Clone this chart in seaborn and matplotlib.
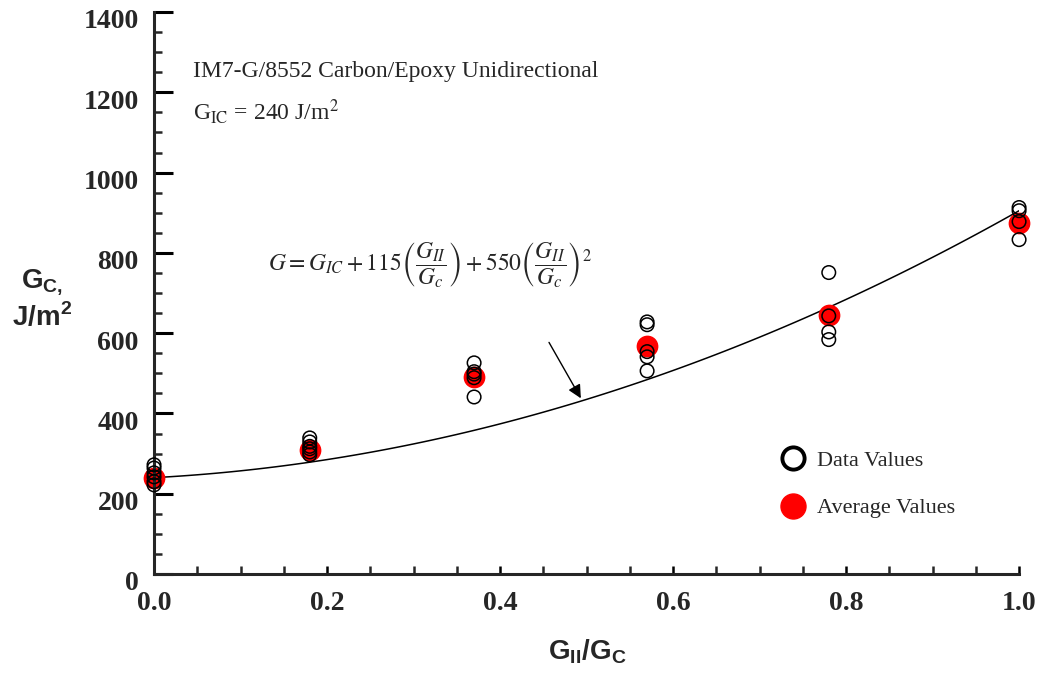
import numpy as np
import pandas as pd
import seaborn as sns
import matplotlib.pyplot as plt
from matplotlib.lines import Line2D
from matplotlib.ticker import MultipleLocator
import matplotlib.transforms as mtransforms

# valori (rapporto GII/Gc e Gc in J/m2)
rapporti = [0.0, 0.18, 0.37, 0.57, 0.78, 1.0]
dati_0 = [222, 230, 242, 252, 264, 272]
dati_018 = [297, 304, 312, 318, 329, 339]
dati_037 = [441, 489, 498, 504, 526]
dati_057 = [506, 541, 554, 621, 628]
dati_078 = [584, 603, 643, 751]
dati_100 = [833, 878, 905, 913]
medie = [240, 310, 492, 568, 645, 875]

tick_x = [0.0, 0.2, 0.4, 0.6, 0.8, 1.0]
tick_y = [0, 200, 400, 600, 800, 1000, 1200, 1400]

# coefficienti della curva riportata nel grafico
g_ic = 240
coeff_1 = 115
coeff_2 = 550

gruppi = [dati_0, dati_018, dati_037, dati_057, dati_078, dati_100]
df = pd.DataFrame({
    "x": [r for r, g in zip(rapporti, gruppi) for _ in g],
    "G": [v for g in gruppi for v in g],
})
df_medie = pd.DataFrame({"x": rapporti, "G": medie})

xs = np.linspace(0, 1, 101)
df_curva = pd.DataFrame({"x": xs, "G": g_ic + coeff_1 * xs + coeff_2 * xs**2})

sns.set_style("ticks")
plt.rcParams["font.family"] = ["Liberation Serif", "DejaVu Serif"]
plt.rcParams["mathtext.fontset"] = "stix"
plt.rcParams["mathtext.rm"] = "Liberation Sans"
plt.rcParams["mathtext.bf"] = "Liberation Sans:bold"
plt.rcParams["axes.linewidth"] = 2.2

fig = plt.figure(figsize=(10.45, 6.76), dpi=100)
ax = fig.add_axes([0.1474, 0.1509, 0.8278, 0.8313])

sns.lineplot(data=df_curva, x="x", y="G", color="black", lw=1.1, ax=ax)
sns.scatterplot(data=df_medie, x="x", y="G", color="red", edgecolor="red",
                s=210, ax=ax, zorder=2, clip_on=False)
sns.scatterplot(data=df, x="x", y="G", marker="o", facecolor="none",
                edgecolor="black", s=95, linewidth=1.1, ax=ax, zorder=3,
                clip_on=False)

ax.set_xlim(0, 1)
ax.set_ylim(0, 1400)
ax.set_xticks(tick_x, [f"{v:.1f}" for v in tick_x], fontweight="bold")
ax.set_yticks(tick_y, [str(v) for v in tick_y], fontweight="bold")
ax.xaxis.set_minor_locator(MultipleLocator(0.05))
ax.yaxis.set_minor_locator(MultipleLocator(50))
ax.tick_params(which="major", direction="in", length=14, width=2.2,
               labelsize=20, color="black")
ax.tick_params(which="minor", direction="in", length=6, width=1.8)
ax.tick_params(axis="x", which="major", length=6, width=1.8, pad=12)
ax.tick_params(axis="y", which="major", pad=11)
spost = mtransforms.ScaledTranslation(0, -5 / 72, fig.dpi_scale_trans)
for lab in ax.get_yticklabels():
    lab.set_transform(lab.get_transform() + spost)
ax.set_xlabel("")
ax.set_ylabel("")
sns.despine(ax=ax)

ax.text(0.045, 1252, "IM7-G/8552 Carbon/Epoxy Unidirectional", fontsize=17,
        va="center")
ax.text(0.045, 1152, r"G$_{\mathrm{IC}}$ = 240 J/m$^{2}$", fontsize=17,
        va="center")
ax.text(0.132, 770,
        r"$G = G_{IC} + 115\left(\dfrac{G_{II}}{G_c}\right) + 550\left(\dfrac{G_{II}}{G_c}\right)^2$",
        fontsize=17, va="center")

x_freccia = 0.495
ax.annotate("", xy=(x_freccia, g_ic + coeff_1 * x_freccia + coeff_2 * x_freccia**2),
            xytext=(0.455, 583),
            arrowprops=dict(arrowstyle="-|>", color="black", lw=1,
                            mutation_scale=20))

h1 = Line2D([], [], marker="o", ls="", mfc="none", mec="black", mew=2.8, ms=16)
h2 = Line2D([], [], marker="o", ls="", mfc="red", mec="red", ms=18)
ax.legend([h1, h2], ["Data Values", "Average Values"], loc="upper left",
          bbox_to_anchor=(0.70, 0.255), frameon=False, fontsize=16,
          labelspacing=1.2, handletextpad=0.5, handlelength=1.2)

fig.text(42 / 1045, 1 - 300 / 676, "G$_{\\mathbf{C,}}$\nJ/m$^{\\mathbf{2}}$",
         family="Liberation Sans", fontweight="bold", fontsize=20,
         ha="center", va="center", math_fontfamily="custom")
fig.text(587 / 1045, 1 - 652 / 676, "G$_{\\mathbf{II}}$/G$_{\\mathbf{C}}$",
         family="Liberation Sans", fontweight="bold", fontsize=20,
         ha="center", va="center", math_fontfamily="custom")

fig.savefig("out.png", dpi=100)
